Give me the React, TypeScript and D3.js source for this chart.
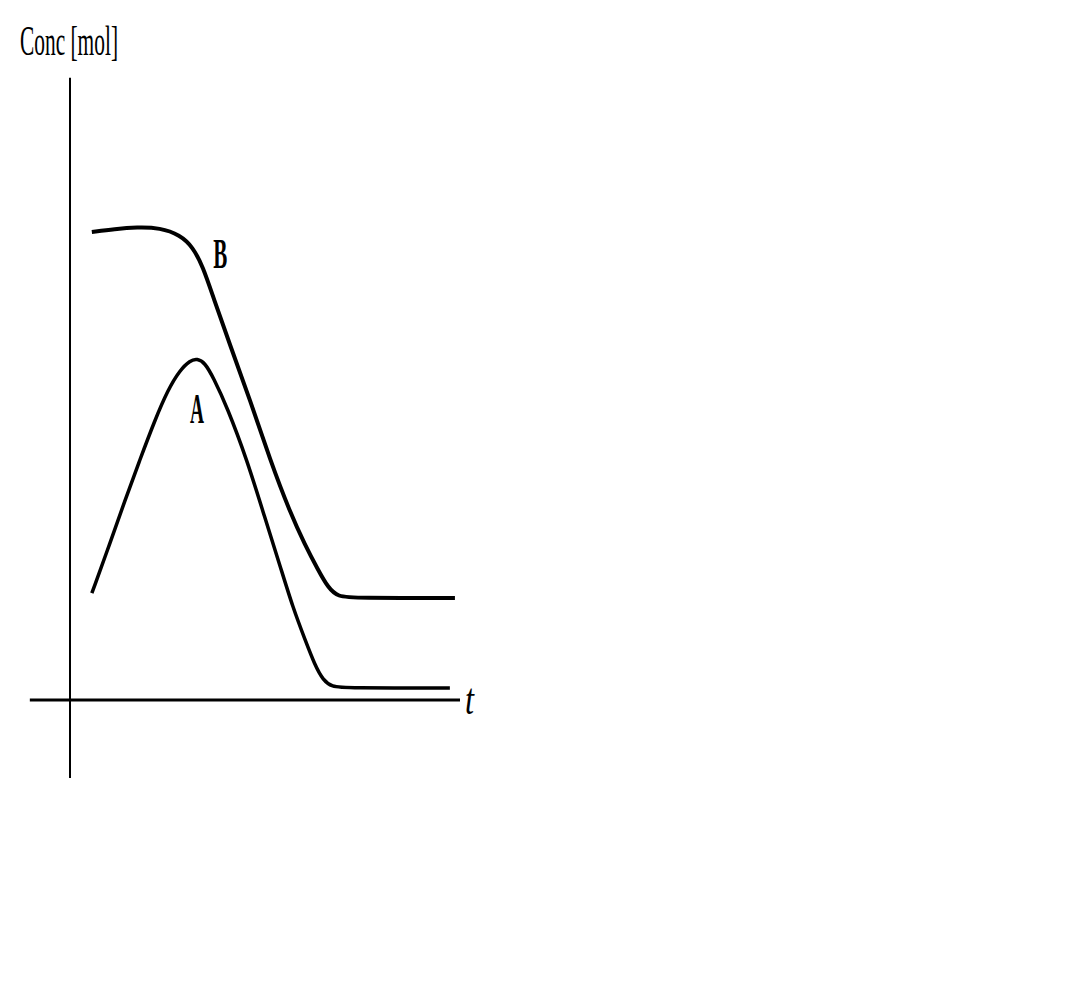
import React from "react";
import * as d3 from "d3";

// time (arbitrary units) and concentration (arbitrary units)
const curveB_t = [0.56, 1.15, 1.72, 2.31, 2.82, 3.15, 3.41, 3.67, 4.1, 4.62, 5.13, 5.64, 6.03, 6.36, 6.62, 6.87, 7.31, 9.87];
const curveB_c = [7.8, 7.85, 7.88, 7.87, 7.75, 7.55, 7.22, 6.72, 5.92, 5.0, 4.0, 3.13, 2.58, 2.17, 1.87, 1.72, 1.7, 1.7];
const curveA_t = [0.56, 1.03, 1.41, 1.79, 2.18, 2.51, 2.82, 3.08, 3.26, 3.46, 3.67, 4.03, 4.54, 5.0, 5.38, 5.72, 6.03, 6.28, 6.49, 6.72, 7.05, 9.74];
const curveA_c = [1.78, 2.62, 3.33, 4.0, 4.67, 5.17, 5.5, 5.66, 5.69, 5.62, 5.38, 4.88, 4.0, 3.03, 2.25, 1.53, 1.0, 0.58, 0.33, 0.22, 0.2, 0.2];
const labels = [
  { name: "B", t: 3.67, c: 7.2 },
  { name: "A", t: 3.08, c: 4.62 },
];
const yAxisTitle = "Conc [mol]";
const xAxisTitle = "t";

export default function App() {
  const x = d3.scaleLinear().domain([0, 10]).range([70, 460]);
  const y = d3.scaleLinear().domain([0, 10]).range([700, 100]);
  const line = d3
    .line<[number, number]>()
    .x((d) => x(d[0]))
    .y((d) => y(d[1]))
    .curve(d3.curveBasis);
  const B = curveB_t.map((t, i) => [t, curveB_c[i]] as [number, number]);
  const A = curveA_t.map((t, i) => [t, curveA_c[i]] as [number, number]);
  const font = "'Liberation Serif', 'DejaVu Serif', serif";
  return (
    <svg
      width={1080}
      height={1008}
      style={{ position: "absolute", left: 0, top: 0, background: "#fff" }}
    >
      {/* y axis */}
      <line x1={x(0)} x2={x(0)} y1={y(10.37)} y2={y(-1.3)} stroke="#000" strokeWidth={2} />
      {/* x axis */}
      <line x1={x(-1.03)} x2={x(10)} y1={y(0)} y2={y(0)} stroke="#000" strokeWidth={3} />
      <path d={line(B) || ""} fill="none" stroke="#000" strokeWidth={4} strokeLinejoin="round" />
      <path d={line(A) || ""} fill="none" stroke="#000" strokeWidth={3.5} strokeLinejoin="round" />
      {labels.map((l) => (
        <text
          key={l.name}
          x={x(l.t)}
          y={y(l.c)}
          fontFamily={font}
          fontWeight="bold"
          fontSize={42}
          textLength={14}
          lengthAdjust="spacingAndGlyphs"
        >
          {l.name}
        </text>
      ))}
      <text
        x={20}
        y={55}
        fontFamily={font}
        fontSize={42}
        textLength={98}
        lengthAdjust="spacingAndGlyphs"
      >
        {yAxisTitle}
      </text>
      <text
        x={465}
        y={714}
        fontFamily={font}
        fontStyle="italic"
        fontSize={44}
        textLength={9}
        lengthAdjust="spacingAndGlyphs"
      >
        {xAxisTitle}
      </text>
    </svg>
  );
}
